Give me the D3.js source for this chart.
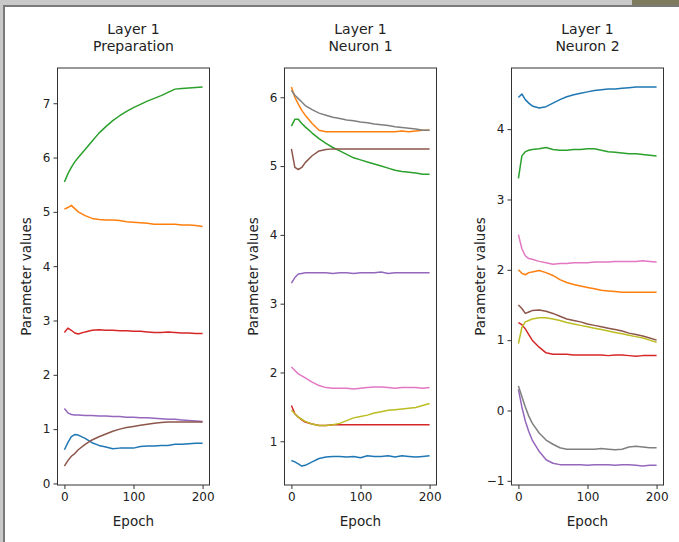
<!DOCTYPE html>
<html>
<head>
<meta charset="utf-8">
<script src="https://cdn.jsdelivr.net/npm/d3@7"></script>
<style>
  html, body { margin: 0; padding: 0; background: #c9c9c9; }
  svg { display: block; }
  text { font-family: "DejaVu Sans", sans-serif; fill: #222; }
</style>
</head>
<body>
<div id="chart"></div>
<script>
const epochs = [0, 5, 10, 15, 20, 30, 40, 50, 60, 70, 80, 90, 100, 110, 120, 130, 140, 150, 160, 170, 180, 190, 200];

const PALETTE = ['#1f77b4', '#ff7f0e', '#2ca02c', '#d62728', '#9467bd', '#8c564b', '#e377c2', '#7f7f7f', '#bcbd22'];

// Layer 1 / Preparation
const prepSeries = [
  [0.62, 0.75, 0.86, 0.90, 0.89, 0.83, 0.75, 0.70, 0.67, 0.64, 0.65, 0.65, 0.65, 0.68, 0.69, 0.69, 0.70, 0.70, 0.72, 0.72, 0.73, 0.74, 0.74],
  [5.05, 5.08, 5.12, 5.06, 5.00, 4.93, 4.88, 4.86, 4.85, 4.85, 4.84, 4.82, 4.81, 4.80, 4.79, 4.77, 4.77, 4.77, 4.77, 4.76, 4.76, 4.75, 4.73],
  [5.55, 5.70, 5.82, 5.92, 6.00, 6.15, 6.30, 6.45, 6.57, 6.68, 6.77, 6.85, 6.92, 6.98, 7.04, 7.09, 7.14, 7.20, 7.26, 7.27, 7.28, 7.29, 7.30],
  [2.78, 2.86, 2.82, 2.77, 2.75, 2.79, 2.82, 2.83, 2.82, 2.82, 2.81, 2.81, 2.80, 2.80, 2.79, 2.78, 2.78, 2.79, 2.78, 2.77, 2.77, 2.76, 2.76],
  [1.38, 1.30, 1.27, 1.26, 1.26, 1.25, 1.25, 1.24, 1.24, 1.23, 1.23, 1.22, 1.22, 1.21, 1.21, 1.20, 1.19, 1.18, 1.18, 1.17, 1.16, 1.15, 1.14],
  [0.32, 0.42, 0.50, 0.55, 0.62, 0.72, 0.80, 0.86, 0.91, 0.96, 1.00, 1.03, 1.05, 1.07, 1.09, 1.11, 1.12, 1.13, 1.13, 1.13, 1.13, 1.13, 1.13],
];

// Layer 1 / Neuron 1
const neuron1Series = [
  [0.72, 0.70, 0.67, 0.64, 0.65, 0.70, 0.75, 0.77, 0.78, 0.78, 0.77, 0.78, 0.76, 0.79, 0.78, 0.78, 0.79, 0.77, 0.79, 0.78, 0.77, 0.78, 0.79],
  [6.15, 6.00, 5.90, 5.81, 5.74, 5.62, 5.52, 5.50, 5.50, 5.50, 5.50, 5.50, 5.50, 5.50, 5.50, 5.50, 5.50, 5.50, 5.51, 5.50, 5.51, 5.52, 5.52],
  [5.58, 5.68, 5.68, 5.62, 5.57, 5.48, 5.40, 5.33, 5.27, 5.22, 5.17, 5.12, 5.09, 5.06, 5.03, 5.00, 4.97, 4.94, 4.92, 4.91, 4.90, 4.88, 4.88],
  [1.52, 1.40, 1.35, 1.31, 1.28, 1.25, 1.23, 1.23, 1.24, 1.24, 1.24, 1.24, 1.24, 1.24, 1.24, 1.24, 1.24, 1.24, 1.24, 1.24, 1.24, 1.24, 1.24],
  [3.30, 3.38, 3.43, 3.44, 3.45, 3.45, 3.45, 3.45, 3.44, 3.45, 3.45, 3.44, 3.45, 3.45, 3.45, 3.46, 3.44, 3.45, 3.45, 3.45, 3.45, 3.45, 3.45],
  [5.25, 4.98, 4.95, 4.98, 5.05, 5.15, 5.22, 5.24, 5.25, 5.25, 5.25, 5.25, 5.25, 5.25, 5.25, 5.25, 5.25, 5.25, 5.25, 5.25, 5.25, 5.25, 5.25],
  [2.08, 2.03, 1.98, 1.95, 1.92, 1.86, 1.81, 1.78, 1.77, 1.77, 1.77, 1.76, 1.77, 1.78, 1.79, 1.79, 1.78, 1.77, 1.78, 1.78, 1.78, 1.77, 1.78],
  [6.10, 6.03, 5.98, 5.93, 5.88, 5.82, 5.77, 5.74, 5.71, 5.69, 5.67, 5.66, 5.64, 5.63, 5.61, 5.60, 5.59, 5.57, 5.56, 5.55, 5.54, 5.52, 5.52],
  [1.45, 1.40, 1.35, 1.32, 1.29, 1.25, 1.23, 1.23, 1.24, 1.26, 1.30, 1.34, 1.36, 1.38, 1.41, 1.43, 1.45, 1.46, 1.47, 1.48, 1.49, 1.52, 1.55],
];

// Layer 1 / Neuron 2
const neuron2Series = [
  [4.45, 4.50, 4.42, 4.37, 4.33, 4.30, 4.32, 4.37, 4.42, 4.46, 4.49, 4.51, 4.53, 4.55, 4.56, 4.57, 4.57, 4.58, 4.59, 4.60, 4.60, 4.60, 4.60],
  [2.00, 1.95, 1.93, 1.96, 1.97, 1.99, 1.96, 1.92, 1.86, 1.82, 1.79, 1.77, 1.75, 1.73, 1.71, 1.70, 1.69, 1.68, 1.68, 1.68, 1.68, 1.68, 1.68],
  [3.30, 3.62, 3.68, 3.70, 3.71, 3.72, 3.74, 3.71, 3.70, 3.70, 3.71, 3.71, 3.72, 3.72, 3.70, 3.68, 3.67, 3.66, 3.65, 3.65, 3.64, 3.63, 3.62],
  [1.25, 1.22, 1.16, 1.08, 1.00, 0.90, 0.82, 0.80, 0.80, 0.80, 0.79, 0.79, 0.79, 0.79, 0.79, 0.78, 0.79, 0.79, 0.78, 0.77, 0.78, 0.78, 0.78],
  [0.30, 0.05, -0.15, -0.30, -0.42, -0.58, -0.70, -0.75, -0.77, -0.77, -0.77, -0.77, -0.78, -0.77, -0.77, -0.77, -0.78, -0.77, -0.77, -0.78, -0.79, -0.78, -0.78],
  [1.50, 1.45, 1.38, 1.40, 1.42, 1.43, 1.41, 1.38, 1.34, 1.30, 1.28, 1.26, 1.23, 1.21, 1.19, 1.17, 1.15, 1.13, 1.10, 1.08, 1.06, 1.03, 1.00],
  [2.50, 2.30, 2.20, 2.16, 2.15, 2.12, 2.10, 2.08, 2.09, 2.09, 2.10, 2.10, 2.10, 2.11, 2.11, 2.11, 2.12, 2.12, 2.12, 2.12, 2.13, 2.12, 2.11],
  [0.35, 0.20, 0.05, -0.08, -0.18, -0.32, -0.42, -0.48, -0.53, -0.55, -0.55, -0.55, -0.55, -0.55, -0.54, -0.55, -0.56, -0.55, -0.52, -0.51, -0.52, -0.53, -0.53],
  [0.95, 1.18, 1.26, 1.28, 1.30, 1.32, 1.32, 1.30, 1.28, 1.25, 1.23, 1.21, 1.19, 1.17, 1.15, 1.13, 1.11, 1.09, 1.07, 1.05, 1.03, 1.00, 0.97],
];

const panelTitles = [['Layer 1', 'Preparation'], ['Layer 1', 'Neuron 1'], ['Layer 1', 'Neuron 2']];
const panelTicks = [[0, 1, 2, 3, 4, 5, 6, 7], [1, 2, 3, 4, 5, 6], [-1, 0, 1, 2, 3, 4]];
const xTicks = [0, 100, 200];
const panels = [prepSeries, neuron1Series, neuron2Series];

const W = 679, H = 542;
const svg = d3.select('#chart').append('svg').attr('width', W).attr('height', H);

// screenshot frame
svg.append('rect').attr('width', W).attr('height', H).attr('fill', '#c9c9c9');
svg.append('rect').attr('x', 632).attr('y', 0).attr('width', 47).attr('height', 6).attr('fill', '#7d7a5e');
svg.append('rect').attr('x', 4).attr('y', 6).attr('width', W).attr('height', H)
  .attr('fill', '#fff').attr('stroke', '#7a7a7a').attr('stroke-width', 2);

const plotTop = 68, plotBottom = 485, plotW = 152;
const fmt = (v) => String(v).replace('-', '\u2212');

panels.forEach((series, i) => {
  const left = 57.5 + 227 * i;
  const x = d3.scaleLinear().domain([-10, 210]).range([left, left + plotW]);
  const lo = d3.min(series, (s) => d3.min(s)), hi = d3.max(series, (s) => d3.max(s));
  const pad = (hi - lo) * 0.05;
  const y = d3.scaleLinear().domain([lo - pad, hi + pad]).range([plotBottom, plotTop]);

  const g = svg.append('g');

  const line = d3.line()
    .x((d, k) => x(epochs[k]))
    .y((d) => y(d));

  g.append('g')
    .selectAll('path')
    .data(series)
    .join('path')
    .attr('d', line)
    .attr('fill', 'none')
    .attr('stroke', (d, k) => PALETTE[k])
    .attr('stroke-width', 1.5)
    .attr('stroke-linejoin', 'round');

  // axes
  const yAxis = g.append('g')
    .attr('transform', `translate(${left},0)`)
    .call(d3.axisLeft(y).tickValues(panelTicks[i]).tickSize(4).tickPadding(3).tickFormat(fmt));
  const xAxis = g.append('g')
    .attr('transform', `translate(0,${plotBottom})`)
    .call(d3.axisBottom(x).tickValues(xTicks).tickSize(4).tickPadding(3));
  [yAxis, xAxis].forEach((a) => {
    a.select('.domain').remove();
    a.selectAll('line').attr('stroke', '#333');
    a.selectAll('text').attr('font-size', 12).attr('fill', '#222')
      .attr('font-family', '"DejaVu Sans", sans-serif');
  });

  g.append('rect')
    .attr('x', left).attr('y', plotTop)
    .attr('width', plotW).attr('height', plotBottom - plotTop)
    .attr('fill', 'none').attr('stroke', '#333').attr('stroke-width', 1);

  // titles and labels
  const cx = left + plotW / 2;
  g.selectAll('.title')
    .data(panelTitles[i])
    .join('text')
    .attr('x', cx)
    .attr('y', (d, k) => 34 + k * 17)
    .attr('text-anchor', 'middle')
    .attr('font-size', 14)
    .text((d) => d);

  g.append('text')
    .attr('x', cx).attr('y', 526)
    .attr('text-anchor', 'middle')
    .attr('font-size', 13.5)
    .text('Epoch');

  g.append('text')
    .attr('transform', `translate(${left - 27},${(plotTop + plotBottom) / 2}) rotate(-90)`)
    .attr('text-anchor', 'middle')
    .attr('font-size', 13.5)
    .text('Parameter values');
});
</script>
</body>
</html>
